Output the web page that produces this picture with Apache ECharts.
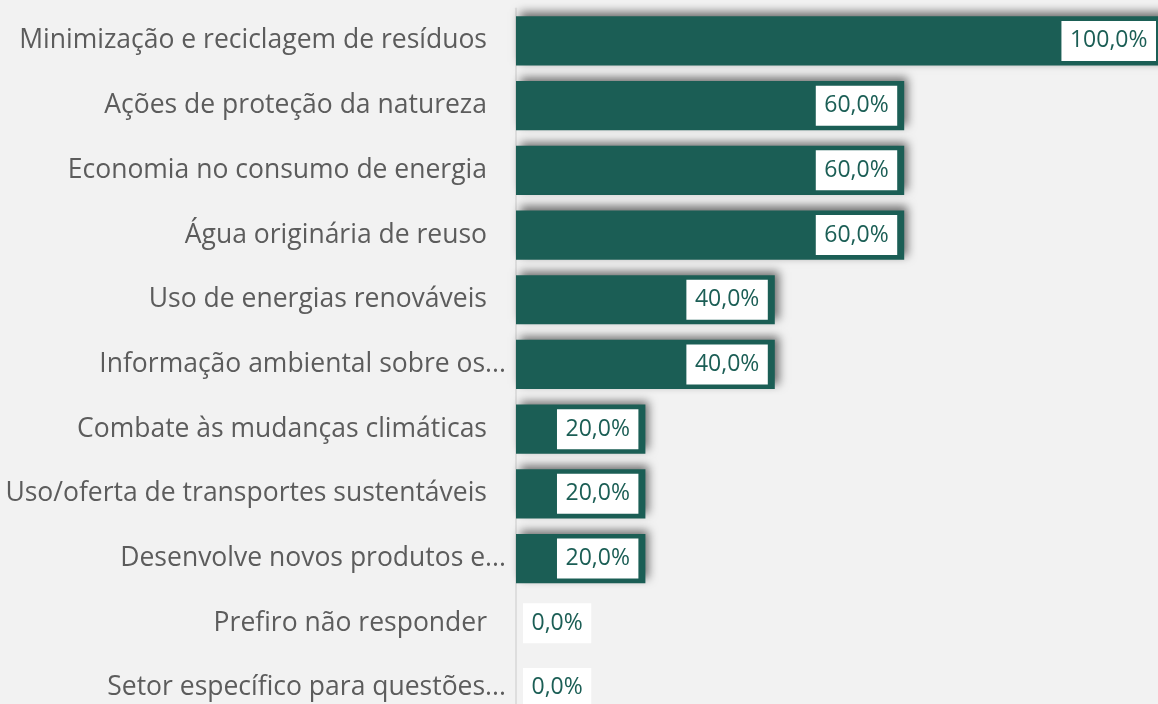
<!DOCTYPE html>
<html>
<head>
<meta charset="utf-8">
<script src="https://cdn.jsdelivr.net/npm/echarts@6/dist/echarts.min.js"></script>
<style>
  html, body { margin: 0; padding: 0; background: #f2f2f2; overflow: hidden; }
  /* the plot runs slightly past the visible window on the right and bottom */
  #chart { width: 1163px; height: 721px; }
</style>
</head>
<body>
<div id="chart"></div>
<script>
// Categories (long names are shown shortened with an ellipsis)
const categories = [
  'Minimização e reciclagem de resíduos',
  'Ações de proteção da natureza',
  'Economia no consumo de energia',
  'Água originária de reuso',
  'Uso de energias renováveis',
  'Informação ambiental sobre os...',
  'Combate às mudanças climáticas',
  'Uso/oferta de transportes sustentáveis',
  'Desenvolve novos produtos e...',
  'Prefiro não responder',
  'Setor específico para questões...'
];
const truncated = [false, false, false, false, false, true, false, false, true, false, true];
// Share of respondents (%)
const values = [100, 60, 60, 60, 40, 40, 20, 20, 20, 0, 0];

const GREEN = '#1b5e55';
const FONT = '"Open Sans", "Noto Sans", sans-serif';

const fmt = v => v.toFixed(1).replace('.', ',') + '%';

const chart = echarts.init(document.getElementById('chart'));
chart.setOption({
  backgroundColor: '#f2f2f2',
  animation: false,
  grid: { left: 516, right: 0, top: 8.6, bottom: 0.7, containLabel: false },
  xAxis: {
    type: 'value', min: 0, max: 100,
    show: false
  },
  yAxis: {
    type: 'category',
    data: categories,
    inverse: true,
    axisTick: { show: false },
    axisLine: { show: true, lineStyle: { color: '#dedede', width: 2 } },
    splitLine: { show: false },
    axisLabel: {
      margin: 10,
      formatter: (v, i) => truncated[i] ? '{t|' + v + '}' : '{f|' + v + '}',
      rich: {
        f: { fontFamily: FONT, fontSize: 26.5, color: '#5c5c5c', padding: [0, 19, 0, 0] },
        t: { fontFamily: FONT, fontSize: 26.5, color: '#5c5c5c' }
      }
    }
  },
  series: [{
    type: 'bar',
    barCategoryGap: '24%',
    data: values.map(v => ({
      value: v,
      label: { position: v === 0 ? 'right' : 'insideRight' }
    })),
    itemStyle: {
      color: GREEN,
      shadowColor: 'rgba(0,0,0,0.55)',
      shadowBlur: 9,
      shadowOffsetX: 4,
      shadowOffsetY: -4
    },
    label: {
      show: true,
      distance: 7,
      formatter: p => fmt(p.value),
      fontFamily: FONT,
      fontSize: 23,
      color: GREEN,
      backgroundColor: '#ffffff',
      padding: [8, 8.5, 8, 8.5],
      lineHeight: 24
    }
  }]
});
</script>
</body>
</html>
